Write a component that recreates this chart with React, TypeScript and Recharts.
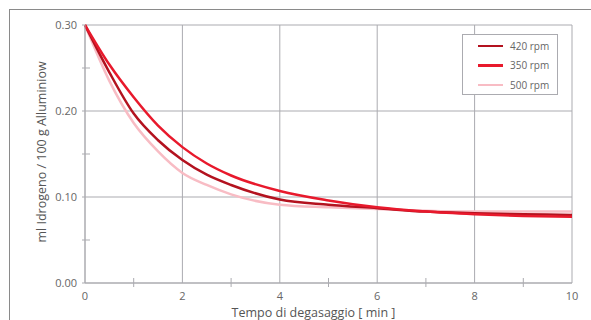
import { LineChart, Line, XAxis, YAxis, CartesianGrid, Legend } from "recharts";

const times = [0, 0.5, 1, 1.5, 2, 2.5, 3, 4, 5, 6, 7, 8, 9, 10];
const rpm420 = [0.3, 0.245, 0.197, 0.166, 0.143, 0.126, 0.114, 0.097, 0.091, 0.087, 0.083, 0.081, 0.08, 0.079];
const rpm350 = [0.3, 0.254, 0.216, 0.183, 0.158, 0.139, 0.125, 0.107, 0.096, 0.088, 0.083, 0.08, 0.078, 0.077];
const rpm500 = [0.3, 0.235, 0.186, 0.153, 0.128, 0.114, 0.103, 0.091, 0.088, 0.086, 0.084, 0.083, 0.083, 0.083];

const series = [
  { key: "r420", name: "420 rpm", color: "#b3121f", values: rpm420 },
  { key: "r350", name: "350 rpm", color: "#e8192c", values: rpm350 },
  { key: "r500", name: "500 rpm", color: "#f8bcc4", values: rpm500 },
];

const xTicks = [0, 1, 2, 3, 4, 5, 6, 7, 8, 9, 10];
const yTicks = [0, 0.05, 0.1, 0.15, 0.2, 0.25, 0.3];
const xGrid = [0, 2, 4, 6, 8, 10];
const yGrid = [0, 0.1, 0.2, 0.3];

const data = times.map((t, i) => ({
  t,
  r420: rpm420[i],
  r350: rpm350[i],
  r500: rpm500[i],
}));

const FONT = "'Open Sans', 'DejaVu Sans', sans-serif";
const GRID = "#ababb0";
const TEXT = "#666";

function XTick({ x, y, payload }: any) {
  const v = payload.value;
  if (v % 2 === 1) {
    return <line x1={x} x2={x} y1={y - 5} y2={y + 4} stroke={GRID} />;
  }
  return (
    <text x={x} y={y + 17} textAnchor="middle" fill={TEXT} fontSize={11} fontFamily={FONT}>
      {v}
    </text>
  );
}

function YTick({ x, y, payload }: any) {
  const v = payload.value;
  const major = Math.round(v * 100) % 10 === 0;
  if (!major) {
    return <line x1={x - 3} x2={x + 5} y1={y} y2={y} stroke={GRID} />;
  }
  return (
    <g>
      <line x1={x - 3} x2={x} y1={y} y2={y} stroke={GRID} />
      <text x={x - 8} y={y} dy="0.35em" textAnchor="end" fill={TEXT} fontSize={11} fontFamily={FONT}>
        {v.toFixed(2)}
      </text>
    </g>
  );
}

function LegendBox() {
  return (
    <div
      style={{
        border: `1px solid ${GRID}`,
        background: "#fff",
        width: 94,
        height: 58,
        boxSizing: "content-box",
        fontFamily: FONT,
        fontSize: 10,
        color: TEXT,
        paddingTop: 1,
      }}
    >
      {series.map((s) => (
        <div key={s.key} style={{ display: "flex", alignItems: "center", height: 19.5 }}>
          <div style={{ marginLeft: 15, width: 25, height: 2.5, background: s.color }} />
          <span style={{ marginLeft: 7 }}>{s.name}</span>
        </div>
      ))}
    </div>
  );
}

export default function App() {
  return (
    <div style={{ position: "absolute", left: 0, top: 0, width: 591, height: 320, background: "#fff", overflow: "hidden" }}>
      <div
        style={{
          position: "absolute",
          left: 9,
          top: 9,
          width: 600,
          height: 400,
          borderTop: "1.5px solid #8a8a8a",
          borderLeft: "1.5px solid #8a8a8a",
        }}
      />
      <LineChart
        width={591}
        height={320}
        data={data}
        margin={{ top: 25, right: 19, left: 0, bottom: 0 }}
        style={{ position: "absolute", left: 0, top: 0 }}
      >
        <CartesianGrid stroke={GRID} horizontalValues={yGrid} verticalValues={xGrid} />
        <XAxis
          dataKey="t"
          type="number"
          domain={[0, 10]}
          ticks={xTicks}
          interval={0}
          height={37}
          tickSize={0}
          tickMargin={0}
          tickLine={false}
          axisLine={{ stroke: GRID }}
          tick={<XTick />}
          label={({ viewBox }: any) => (
            <text
              x={viewBox.x + viewBox.width / 2 - 15}
              y={317}
              textAnchor="middle"
              fill="#555"
              fontSize={12.5}
              fontFamily={FONT}
            >
              Tempo di degasaggio [ min ]
            </text>
          )}
        />
        <YAxis
          type="number"
          domain={[0, 0.3]}
          ticks={yTicks}
          interval={0}
          width={85}
          tickSize={0}
          tickMargin={0}
          tickLine={false}
          axisLine={{ stroke: GRID }}
          tick={<YTick />}
          label={() => (
            <text
              x={41}
              y={152}
              transform="rotate(-90 41 152)"
              textAnchor="middle"
              dominantBaseline="central"
              fill="#555"
              fontSize={12.5}
              fontFamily={FONT}
            >
              ml Idrogeno / 100 g Alluminiow
            </text>
          )}
        />
        <Legend
          layout="horizontal"
          verticalAlign="middle"
          align="center"
          content={<LegendBox />}
          wrapperStyle={{ left: 462, top: 34, width: 96, height: 60 }}
        />
        <Line dataKey="r500" name="500 rpm" type="monotone" stroke={series[2].color} strokeWidth={2.5} dot={false} isAnimationActive={false} />
        <Line dataKey="r420" name="420 rpm" type="monotone" stroke={series[0].color} strokeWidth={2.5} dot={false} isAnimationActive={false} />
        <Line dataKey="r350" name="350 rpm" type="monotone" stroke={series[1].color} strokeWidth={2.5} dot={false} isAnimationActive={false} />
      </LineChart>
    </div>
  );
}
